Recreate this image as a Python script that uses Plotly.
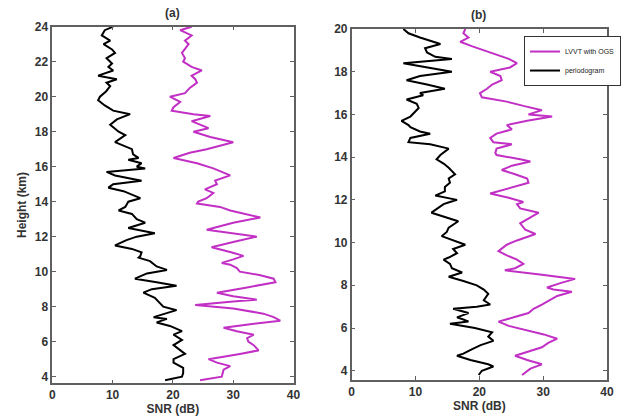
import plotly.graph_objects as go

# ---- Panel (a): SNR profiles, 3.8-24 km ----
a_black_h = [24.0, 23.8, 23.5, 23.2, 23.0, 22.7, 22.5, 22.2, 21.9, 21.7, 21.5, 21.2, 21.0, 20.8, 20.6,
             20.3, 20.0, 19.8, 19.5, 19.2, 19.0, 18.7, 18.4, 18.0, 17.8, 17.4, 17.0, 16.7, 16.5, 16.4,
             16.2, 16.0, 15.9, 15.7, 15.5, 15.2, 15.0, 14.8, 14.6, 14.2, 14.0, 13.7, 13.5, 13.3, 13.0,
             12.8, 12.5, 12.2, 12.0, 11.8, 11.5, 11.3, 11.1, 10.9, 10.8, 10.6, 10.3, 10.1, 9.9, 9.6,
             9.4, 9.2, 9.0, 8.8, 8.5, 8.3, 8.0, 7.8, 7.6, 7.4, 7.3, 7.1, 6.9, 6.6, 6.4, 6.1, 5.8, 5.6,
             5.3, 5.0, 4.8, 4.5, 4.2, 4.0, 3.8]
a_black_snr = [10.1, 8.7, 8.2, 9.6, 8.5, 9.9, 10.4, 9.0, 9.9, 9.3, 10.1, 7.6, 10.7, 9.0, 9.6,
               8.9, 7.9, 7.6, 8.7, 10.1, 12.9, 10.7, 9.6, 11.0, 12.1, 10.4, 13.2, 13.4, 14.3, 12.6,
               14.8, 14.0, 15.4, 9.0, 10.4, 14.8, 10.1, 9.3, 11.8, 14.6, 12.6, 12.1, 11.0, 13.2, 14.0,
               15.4, 12.6, 17.0, 14.0, 12.3, 10.4, 13.2, 14.8, 14.6, 14.3, 16.2, 17.3, 19.0, 15.7, 13.7,
               17.3, 20.6, 16.5, 15.1, 17.0, 17.6, 18.4, 20.6, 18.7, 16.8, 19.0, 17.3, 19.5, 21.5, 20.1,
               21.5, 20.1, 20.9, 22.0, 20.1, 20.1, 21.7, 21.7, 21.5, 18.7]

a_mag_h = [24.0, 23.8, 23.5, 23.2, 23.0, 22.7, 22.5, 22.2, 22.0, 21.7, 21.5, 21.2, 21.0, 20.8, 20.5,
           20.2, 20.0, 19.7, 19.4, 19.2, 19.0, 18.9, 18.6, 18.4, 18.2, 18.0, 17.7, 17.4, 17.0, 16.8,
           16.5, 16.2, 15.9, 15.5, 15.2, 15.0, 14.7, 14.5, 14.2, 14.0, 13.9, 13.7, 13.5, 13.1, 12.8,
           12.4, 12.2, 12.0, 11.7, 11.4, 11.1, 10.9, 10.7, 10.5, 10.4, 10.2, 10.0, 9.8, 9.6, 9.4,
           9.1, 8.8, 8.6, 8.4, 8.3, 8.1, 7.9, 7.6, 7.4, 7.2, 7.0, 6.8, 6.6, 6.4, 6.2, 6.0, 5.8, 5.5,
           5.3, 5.0, 4.8, 4.6, 4.4, 4.0, 3.8]
a_mag_snr = [23.1, 21.2, 23.1, 22.0, 22.6, 22.0, 21.5, 22.0, 21.7, 23.1, 24.8, 23.1, 23.7, 24.0, 22.8,
             22.0, 19.5, 21.2, 20.1, 19.8, 23.4, 26.2, 23.1, 24.5, 25.9, 23.4, 26.2, 30.0, 25.6, 22.8,
             20.1, 24.0, 26.7, 29.5, 27.0, 27.3, 25.3, 26.7, 25.6, 24.2, 24.0, 27.8, 29.5, 34.5, 30.0,
             25.6, 30.0, 33.9, 30.0, 26.4, 29.8, 31.7, 30.0, 28.1, 29.5, 30.6, 31.1, 34.5, 36.7, 37.0,
             32.3, 27.3, 30.0, 33.9, 30.0, 23.7, 30.0, 35.0, 36.7, 37.8, 32.8, 28.4, 30.6, 33.4, 32.3,
             32.5, 33.4, 34.2, 31.1, 25.9, 27.3, 29.5, 28.4, 28.1, 24.5]

# ---- Panel (b): SNR profiles, 3.8-20 km ----
b_black_h = [20.0, 19.8, 19.6, 19.3, 19.1, 18.9, 18.7, 18.6, 18.4, 18.2, 18.0, 17.8, 17.6, 17.4, 17.2,
             17.0, 16.9, 16.7, 16.5, 16.3, 16.1, 15.9, 15.7, 15.5, 15.4, 15.2, 15.1, 14.9, 14.7, 14.6,
             14.4, 14.1, 13.9, 13.7, 13.5, 13.2, 13.0, 12.8, 12.6, 12.4, 12.2, 12.0, 11.9, 11.8, 11.4,
             11.2, 11.0, 10.7, 10.5, 10.3, 10.1, 9.9, 9.7, 9.5, 9.3, 9.2, 9.0, 8.8, 8.6, 8.4, 8.2, 8.0,
             7.8, 7.6, 7.3, 7.1, 7.0, 6.9, 6.7, 6.5, 6.4, 6.3, 6.2, 6.0, 5.8, 5.6, 5.4, 5.2, 5.0, 4.8,
             4.7, 4.5, 4.3, 4.2, 4.0, 3.8]
b_black_snr = [8.1, 8.9, 10.7, 13.9, 11.5, 11.8, 13.1, 15.7, 8.1, 11.8, 15.7, 10.7, 8.6, 11.8, 14.6,
               10.7, 11.2, 8.6, 10.2, 10.5, 9.9, 9.2, 7.8, 8.9, 9.2, 10.7, 12.3, 9.2, 8.9, 12.3,
               15.2, 13.9, 13.3, 14.4, 15.2, 16.2, 15.2, 15.4, 14.6, 14.6, 13.1, 16.5, 15.4, 14.4, 12.5,
               14.6, 16.7, 15.2, 14.9, 14.1, 15.9, 17.8, 15.9, 16.5, 15.2, 14.4, 15.4, 15.7, 17.3, 15.2, 17.5, 19.6,
               20.7, 21.4, 20.7, 21.7, 19.6, 15.9, 18.3, 16.5, 17.5, 18.3, 15.4, 19.3, 22.0, 21.4, 22.2, 20.2, 18.8, 17.5,
               16.5, 18.6, 21.4, 22.2, 20.4, 19.9]

b_mag_h = [20.0, 19.8, 19.6, 19.4, 19.2, 19.0, 18.8, 18.6, 18.4, 18.2, 18.0, 17.8, 17.6, 17.4, 17.2,
           17.0, 16.8, 16.6, 16.4, 16.2, 16.0, 15.9, 15.7, 15.5, 15.3, 15.1, 14.9, 14.7, 14.6, 14.4,
           14.2, 14.1, 13.9, 13.8, 13.6, 13.4, 13.2, 13.0, 12.8, 12.5, 12.3, 12.1, 11.9, 11.8, 11.6,
           11.4, 11.1, 10.9, 10.6, 10.4, 10.1, 9.9, 9.6, 9.4, 9.2, 9.0, 8.8, 8.7, 8.5, 8.3, 8.1, 7.9,
           7.8, 7.7, 7.5, 7.3, 7.1, 6.9, 6.7, 6.5, 6.3, 6.1, 5.9, 5.7, 5.5, 5.3, 5.1, 4.9, 4.7, 4.5,
           4.3, 4.1, 3.8]
b_mag_snr = [17.8, 17.5, 18.3, 17.0, 18.8, 20.7, 22.7, 24.6, 25.9, 24.8, 21.7, 23.3, 23.5, 22.0, 21.2,
             20.1, 20.4, 24.3, 26.9, 29.8, 27.7, 31.4, 27.5, 24.3, 25.1, 22.7, 21.7, 22.2, 25.1, 22.7,
             22.5, 22.7, 26.4, 28.0, 25.1, 23.5, 25.6, 27.5, 27.7, 24.3, 21.7, 24.6, 26.9, 25.9, 26.4,
             29.3, 27.5, 26.4, 27.2, 28.8, 25.9, 24.3, 23.0, 24.3, 25.9, 26.9, 25.6, 24.0, 29.5, 35.0, 32.7, 30.6,
             31.6, 34.5, 32.2, 31.1, 29.8, 28.5, 27.7, 25.4, 23.0, 24.6, 27.5, 30.1, 32.2, 30.8, 29.8, 27.5, 25.6, 27.5,
             29.8, 28.0, 26.7]

x_ticks = [0, 10, 20, 30, 40]
a_y_ticks = [4, 6, 8, 10, 12, 14, 16, 18, 20, 22, 24]
b_y_ticks = [4, 6, 8, 10, 12, 14, 16, 18, 20]

series_names = ["LVVT with OGS", "periodogram"]
MAGENTA = "#c12fc4"
BLACK = "#000000"
FONT = "Liberation Sans"

fig = go.Figure()
fig.add_trace(go.Scatter(x=a_black_snr, y=a_black_h, mode="lines", line=dict(color=BLACK, width=2),
                         xaxis="x", yaxis="y", showlegend=False))
fig.add_trace(go.Scatter(x=a_mag_snr, y=a_mag_h, mode="lines", line=dict(color=MAGENTA, width=2),
                         xaxis="x", yaxis="y", showlegend=False))
fig.add_trace(go.Scatter(x=b_mag_snr, y=b_mag_h, mode="lines", name=series_names[0],
                         line=dict(color=MAGENTA, width=2), xaxis="x2", yaxis="y2"))
fig.add_trace(go.Scatter(x=b_black_snr, y=b_black_h, mode="lines", name=series_names[1],
                         line=dict(color=BLACK, width=2), xaxis="x2", yaxis="y2"))

tickfont = dict(family=FONT, size=12, color="#333333", weight="bold")
titlefont = dict(family=FONT, size=12, color="#333333", weight="bold")
common_axis = dict(showline=True, mirror="allticks", linecolor="#606060", linewidth=1.5,
                   ticks="inside", ticklen=4, tickcolor="#606060", showgrid=False,
                   zeroline=False, tickfont=tickfont, automargin=False)

fig.update_layout(
    width=634, height=419,
    margin=dict(l=0, r=0, t=0, b=0),
    paper_bgcolor="white", plot_bgcolor="white",
    showlegend=True,
    xaxis=dict(domain=[0.0825, 0.4630], range=[0, 40], tickvals=x_ticks, anchor="y",
               title=dict(text="SNR (dB)", font=titlefont, standoff=2), **common_axis),
    yaxis=dict(domain=[0.0852, 0.9363], range=[3.62, 24], tickvals=a_y_ticks, anchor="x",
               title=dict(text="Height (km)", font=titlefont, standoff=6), **common_axis),
    xaxis2=dict(domain=[0.5547, 0.9574], range=[0, 40], tickvals=x_ticks, anchor="y2",
                title=dict(text="SNR (dB)", font=titlefont, standoff=2), **common_axis),
    yaxis2=dict(domain=[0.0938, 0.9308], range=[3.58, 20], tickvals=b_y_ticks, anchor="x2",
                **common_axis),
    legend=dict(x=0.8265, y=0.914, xanchor="left", yanchor="top",
                bgcolor="white", bordercolor="#333333", borderwidth=1,
                font=dict(family=FONT, size=7, color="#222222"),
                itemwidth=30, tracegroupgap=0),
    annotations=[
        dict(text="(a)", x=0.2727, y=1 - 13 / 419, xref="paper", yref="paper",
             xanchor="center", yanchor="middle", showarrow=False, font=titlefont),
        dict(text="(b)", x=0.7551, y=1 - 15 / 419, xref="paper", yref="paper",
             xanchor="center", yanchor="middle", showarrow=False, font=titlefont),
    ],
)

fig.write_html("out.html")
